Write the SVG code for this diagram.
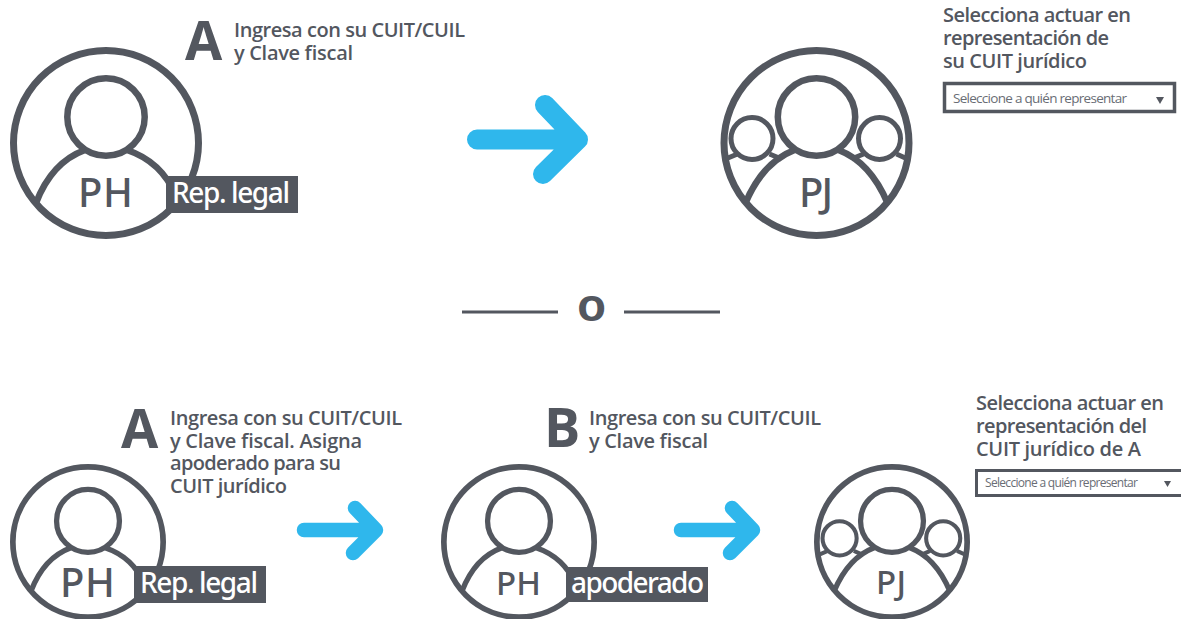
<svg xmlns="http://www.w3.org/2000/svg" width="1181" height="619" viewBox="0 0 1181 619">
<style>
.ln{fill:none;stroke:#53575f;stroke-linecap:butt}
.t{font-family:"Open Sans","Noto Sans",sans-serif;font-weight:600;font-size:20px;fill:#53575f}
.big{font-family:"Open Sans","Noto Sans",sans-serif;font-weight:700;font-size:54px;fill:#53575f}
.ph{font-family:"Noto Sans","Open Sans",sans-serif;font-weight:500;fill:#53575f}
.tag{font-family:"Noto Sans","Open Sans",sans-serif;font-weight:500;font-size:28px;fill:#fff}
.sel{font-family:"Open Sans","Noto Sans",sans-serif;font-weight:400;fill:#696d75}
.box{fill:#fff;stroke:#53575f}
.bar{fill:#53575f}
.arr{fill:none;stroke:#2fb7ec;stroke-linecap:round;stroke-linejoin:round}
.sep{stroke:#53575f;stroke-width:3}
</style>
<defs>
<g id="person">
<circle class="ln" cx="106" cy="143" r="92.5" stroke-width="7"/>
<circle class="ln" cx="106" cy="117" r="38.7" stroke-width="6.5"/>
<path class="ln" stroke-width="6.5" d="M36 203C46 177 63 158 85 150M127 150C148 157 166 172 176 196"/>
</g>
<g id="group">
<circle class="ln" cx="106" cy="143" r="92.5" stroke-width="7"/>
<circle class="ln" cx="106" cy="117" r="38.7" stroke-width="6.5"/>
<circle class="ln" cx="41.500" cy="138.500" r="21" stroke-width="5"/>
<circle class="ln" cx="169" cy="138.500" r="21" stroke-width="5"/>
<path class="ln" stroke-width="6.500" d="M35 203C46 177 63 158 84 150M128 150C149 158 166 177 177 203"/>
<path class="ln" stroke-width="5" d="M15 159L27 154M59 154L71 159M141 159L153 154M186 154L197 159"/>
</g>
</defs>
<g id="connectors">
<path class="arr" stroke-width="20" d="M477 139.500H577M545 105L578 139.500L543 174"/>
<path class="arr" stroke-width="14.500" d="M304 530H375M355 508L376 530L353 553"/>
<path class="arr" stroke-width="14.500" d="M681 530H752M732 508L753 530L730 553"/>
<path class="sep" d="M462 312H558M624 312H720"/>
</g>
<g id="node-a-top">
<use href="#person"/>
<rect class="bar" x="166" y="176" width="132" height="37"/>
<text class="tag" x="172" y="203" textLength="118">Rep. legal</text>
<text class="ph" x="78" y="207" font-size="40" textLength="55">PH</text>
<text class="big" x="185" y="60" textLength="38">A</text>
<text class="t" x="234" y="37" textLength="231">Ingresa con su CUIT/CUIL</text>
<text class="t" x="234" y="60" textLength="119">y Clave fiscal</text>
</g>
<g id="node-pj-top">
<use href="#group" transform="translate(710.500,0)"/>
<text class="ph" x="799" y="207" font-size="40" textLength="34">PJ</text>
<text class="t" x="943" y="22" textLength="188">Selecciona actuar en</text>
<text class="t" x="943" y="45" textLength="166">representación de</text>
<text class="t" x="943" y="68" textLength="144">su CUIT jurídico</text>
<rect class="box" x="944.500" y="83.500" width="230" height="28" stroke-width="3.500"/>
<text class="sel" x="953" y="103" font-size="13.500" textLength="174">Seleccione a quién representar</text>
<path class="bar" d="M1156 97H1164L1160 104Z"/>
</g>
<g id="node-o">
<text x="591.500" y="321" text-anchor="middle" font-family="Liberation Sans, sans-serif" font-weight="700" font-size="47" fill="#53575f">o</text>
</g>
<g id="node-a-bottom">
<use href="#person" transform="translate(88,542) scale(.8125) translate(-106,-143)"/>
<rect class="bar" x="134" y="566" width="132" height="37"/>
<text class="tag" x="140" y="593" textLength="118">Rep. legal</text>
<text class="ph" x="60" y="597" font-size="40" textLength="55">PH</text>
<text class="big" x="121" y="448" textLength="38">A</text>
<text class="t" x="170" y="425" textLength="232">Ingresa con su CUIT/CUIL</text>
<text class="t" x="170" y="448" textLength="192">y Clave fiscal. Asigna</text>
<text class="t" x="170" y="470" textLength="171">apoderado para su</text>
<text class="t" x="170" y="493" textLength="117">CUIT jurídico</text>
</g>
<g id="node-b">
<use href="#person" transform="translate(519,542) scale(.8125) translate(-106,-143)"/>
<rect class="bar" x="566" y="567" width="142" height="35"/>
<text class="tag" x="571" y="593" textLength="133">apoderado</text>
<text class="ph" x="496" y="595" font-size="33" textLength="45">PH</text>
<text class="big" x="544" y="447" textLength="36">B</text>
<text class="t" x="589" y="425" textLength="232">Ingresa con su CUIT/CUIL</text>
<text class="t" x="589" y="448" textLength="119">y Clave fiscal</text>
</g>
<g id="node-pj-bottom">
<use href="#group" transform="translate(892,542) scale(.8125) translate(-106,-143)"/>
<text class="ph" x="876" y="594" font-size="33" textLength="30">PJ</text>
<text class="t" x="976" y="410" textLength="188">Selecciona actuar en</text>
<text class="t" x="976" y="433" textLength="171">representación del</text>
<text class="t" x="976" y="456" textLength="165">CUIT jurídico de A</text>
<rect class="box" x="976.500" y="470.500" width="206" height="25" stroke-width="3"/>
<text class="sel" x="985" y="487" font-size="12" textLength="153">Seleccione a quién representar</text>
<path class="bar" d="M1164 481H1171L1167.500 487Z"/>
</g>
</svg>
